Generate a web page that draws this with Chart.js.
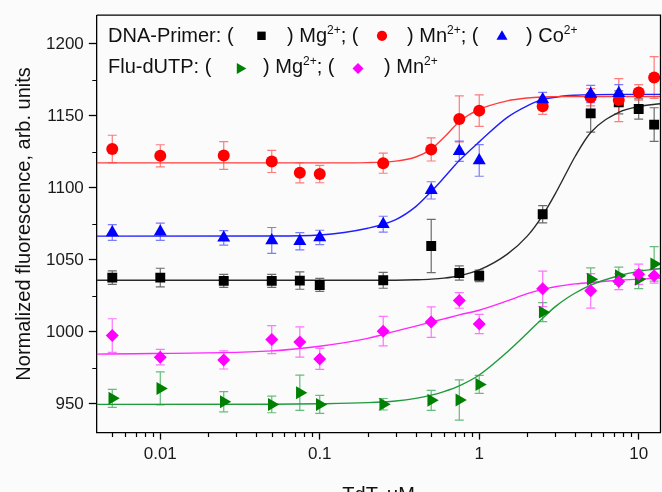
<!DOCTYPE html>
<html>
<head>
<meta charset="utf-8">
<script src="https://cdn.jsdelivr.net/npm/chart.js@4"></script>
<style>
  html, body { margin: 0; padding: 0; overflow: hidden; background: #ffffff; }
  #wrap { position: relative; width: 668px; height: 507px; background: #fbfbfb; }
  #legend span.t { position: absolute; font-family: "Liberation Sans", Arial, sans-serif; font-size: 20px; line-height: 20px; color: #111; white-space: pre; }
  #legend span.s { font-size: 12px; position: relative; top: -8px; }
</style>
</head>
<body>
<div id="wrap">
  <canvas id="c"></canvas>
  <div id="legend">
    <span class="t" style="left:108px;top:25px">DNA-Primer: (</span>
    <span class="t" style="left:287px;top:25px">) Mg<span class="s">2+</span>; (</span>
    <span class="t" style="left:407px;top:25px">) Mn<span class="s">2+</span>; (</span>
    <span class="t" style="left:526px;top:25px">) Co<span class="s">2+</span></span>
    <span class="t" style="left:108px;top:55.5px">Flu-dUTP: (</span>
    <span class="t" style="left:263px;top:55.5px">) Mg<span class="s">2+</span>; (</span>
    <span class="t" style="left:384px;top:55.5px">) Mn<span class="s">2+</span></span>
  </div>
</div>
<script>
// ---------------- data ----------------
const concentrations = [0.005, 0.01, 0.025, 0.05, 0.075, 0.1, 0.25, 0.5, 0.75, 1, 2.5, 5, 7.5, 10, 12.5];

const primerMg    = [1037.7, 1037.7, 1035.4, 1035.4, 1035.6, 1032.6, 1035.8, 1059.6, 1040.9, 1038.9, 1081.7, 1151.8, 1159.4, 1154.8, 1144.0];
const primerMgErr = [4.7, 6.5, 4.5, 4.5, 6, 4.5, 5.5, 18.5, 5, 4, 6, 13, 8, 7, 11.7];

const primerMn    = [1127.1, 1122.3, 1122.5, 1118.4, 1110.5, 1109.6, 1117.2, 1126.7, 1147.9, 1153.7, 1156.8, 1163, 1161, 1166.3, 1176.7];
const primerMnErr = [9.5, 7.7, 9.6, 7.7, 7, 6, 7, 8, 16, 11, 5.7, 6, 15, 5.4, 14.5];

const primerCo    = [1069, 1069.5, 1065.3, 1063.5, 1063, 1065.6, 1074.8, 1098.3, 1125.5, 1119.1, 1161.4, 1165.3, 1165.8, null, null];
const primerCoErr = [5.5, 6, 5, 9, 6, 5, 5.5, 6, 7, 11, 5, 6, 6, 0, 0];

const fluMg    = [953.8, 960.7, 951.4, 949.6, 957.7, 949.6, 949.7, 952.4, 952.6, 963.5, 1013.7, 1036.5, 1038.9, 1036.5, 1047.2];
const fluMgErr = [6.3, 11.5, 7, 5.8, 12.3, 6.3, 4, 7, 14, 6.3, 6.6, 8, 6, 6.5, 12];

const fluMn    = [997.4, 982.4, 980.5, 994.6, 992.9, 981.2, 1000.5, 1006.8, 1021.8, 1005.4, 1029.9, 1028.5, 1034.9, 1040, 1038.9];
const fluMnErr = [11.7, 5.4, 6.3, 9.7, 10.5, 7.3, 10.3, 10.6, 5.4, 6.7, 12.3, 12, 5.6, 7, 5];

// fitted curves at these concentrations
const fitX        = [0.004, 0.05, 0.1, 0.2, 0.3, 0.4, 0.5, 0.6, 0.75, 1, 1.5, 2, 2.5, 3, 3.5, 4, 5, 7.5, 10, 13.7];
const fitPrimerMg = [1035.8, 1035.8, 1035.8, 1035.8, 1035.9, 1036.2, 1036.6, 1037.3, 1039, 1043, 1054, 1066.5, 1081, 1096, 1110, 1122, 1138.5, 1152.5, 1156.5, 1158.5];
const fitPrimerMn = [1117.4, 1117.4, 1117.4, 1117.6, 1118.6, 1121.5, 1127, 1135, 1146, 1154.5, 1160.5, 1162.5, 1163.2, 1163.4, 1163.5, 1163.5, 1163.5, 1163.5, 1163.5, 1163.5];
const fitPrimerCo = [1066.5, 1066.6, 1067.3, 1072, 1078, 1087, 1097.5, 1107, 1119, 1132, 1149, 1157, 1161.5, 1163, 1164, 1164.4, 1164.8, 1165, 1165, 1165];
const fitFluMg    = [949.6, 949.7, 950, 950.8, 952, 953.8, 956, 958.5, 962.5, 970, 986, 999, 1009.5, 1017.5, 1023, 1027, 1032.5, 1039, 1042, 1044];
const fitFluMn    = [984.5, 986.8, 990, 995.5, 1000.5, 1004, 1006.8, 1009, 1011.8, 1015, 1021.5, 1026.5, 1029.5, 1031.3, 1032.5, 1033.3, 1034.3, 1035.8, 1036.6, 1037.4];

// axes
const xMin = 0.004, xMax = 13.7;
const yMin = 930, yMax = 1220;
const xTickValues = [0.01, 0.1, 1, 10];
const xTickLabels = ['0.01', '0.1', '1', '10'];
const yTickValues = [950, 1000, 1050, 1100, 1150, 1200];
const yTickLabels = ['950', '1000', '1050', '1100', '1150', '1200'];
const yMinorTicks = [975, 1025, 1075, 1125, 1175];
const xMinorTicks = [];
[0.001, 0.01, 0.1, 1].forEach(d => { for (let k = 2; k <= 9; k++) { const v = +(k * d).toPrecision(3); if (v > xMin && v < xMax) xMinorTicks.push(v); } });

// ---------------- helpers ----------------
const pts = (xs, ys) => xs.map((x, i) => ({ x: x, y: ys[i] })).filter(p => p.y !== null);

const series = [
  { label: 'DNA-Primer Mg2+', ys: primerMg, err: primerMgErr, fit: fitPrimerMg, color: '#000000', errColor: 'rgba(60,60,60,0.75)', lineColor: '#2a2a2a', style: 'rect', r: 7, rot: 0 },
  { label: 'DNA-Primer Mn2+', ys: primerMn, err: primerMnErr, fit: fitPrimerMn, color: '#ff0000', errColor: 'rgba(255,70,70,0.7)', lineColor: '#ff3c3c', style: 'circle', r: 6, rot: 0 },
  { label: 'DNA-Primer Co2+', ys: primerCo, err: primerCoErr, fit: fitPrimerCo, color: '#0000ff', errColor: 'rgba(70,70,255,0.7)', lineColor: '#1e1eff', style: 'triangle', r: 7.5, rot: 0 },
  { label: 'Flu-dUTP Mg2+',   ys: fluMg,    err: fluMgErr,    fit: fitFluMg,    color: '#008000', errColor: 'rgba(40,160,70,0.7)', lineColor: '#1f9a3c', style: 'triangle', r: 7.5, rot: 90 },
  { label: 'Flu-dUTP Mn2+',   ys: fluMn,    err: fluMnErr,    fit: fitFluMn,    color: '#ff00ff', errColor: 'rgba(255,60,255,0.7)', lineColor: '#ff28ff', style: 'rectRot', r: 6.5, rot: 0 }
];

const datasets = [];
series.forEach((s, i) => {
  datasets.push({
    label: s.label + ' fit', type: 'line', data: pts(fitX, s.fit), showLine: true,
    borderColor: s.lineColor, borderWidth: 1.4, pointRadius: 0, fill: false,
    cubicInterpolationMode: 'monotone', order: 10 + i
  });
});
series.forEach((s, i) => {
  datasets.push({
    label: s.label, data: pts(concentrations, s.ys), showLine: false,
    pointStyle: s.style, pointRadius: s.r, pointRotation: s.rot,
    backgroundColor: s.color, borderColor: s.color, borderWidth: 0, order: 5 - i
  });
});

const errorBars = {
  id: 'errorBars',
  beforeDatasetsDraw(chart) {
    const { ctx, scales: { x, y } } = chart;
    ctx.save();
    ctx.lineWidth = 1.2;
    series.forEach(s => {
      ctx.strokeStyle = s.errColor;
      concentrations.forEach((c, j) => {
        const v = s.ys[j];
        if (v === null) return;
        const e = s.err[j];
        const px = x.getPixelForValue(c);
        const yt = y.getPixelForValue(v + e), yb = y.getPixelForValue(v - e);
        ctx.beginPath();
        ctx.moveTo(px, yt); ctx.lineTo(px, yb);
        ctx.moveTo(px - 4.5, yt); ctx.lineTo(px + 4.5, yt);
        ctx.moveTo(px - 4.5, yb); ctx.lineTo(px + 4.5, yb);
        ctx.stroke();
      });
    });
    ctx.restore();
  }
};

function drawMarker(ctx, style, x, y, r, rot, color) {
  ctx.save();
  ctx.fillStyle = color;
  ctx.beginPath();
  if (style === 'circle') { ctx.arc(x, y, r, 0, Math.PI * 2); }
  else if (style === 'rect') { const h = r * Math.SQRT1_2; ctx.rect(x - h, y - h, 2 * h, 2 * h); }
  else if (style === 'rectRot') { ctx.moveTo(x, y - r); ctx.lineTo(x + r, y); ctx.lineTo(x, y + r); ctx.lineTo(x - r, y); ctx.closePath(); }
  else if (style === 'triangle') {
    let a = rot * Math.PI / 180;
    ctx.moveTo(x + Math.sin(a) * r, y - Math.cos(a) * r);
    a += 2 * Math.PI / 3; ctx.lineTo(x + Math.sin(a) * r, y - Math.cos(a) * r);
    a += 2 * Math.PI / 3; ctx.lineTo(x + Math.sin(a) * r, y - Math.cos(a) * r);
    ctx.closePath();
  }
  ctx.fill();
  ctx.restore();
}

const legendMarkers = [
  { s: 0, x: 261.5, y: 35.8 }, { s: 1, x: 382, y: 35.8 }, { s: 2, x: 502, y: 36.5 },
  { s: 3, x: 240, y: 68.5 }, { s: 4, x: 358, y: 68.5 }
];

const frameAndMinor = {
  id: 'frameAndMinor',
  afterDraw(chart) {
    const { ctx, chartArea: a, scales: { x, y } } = chart;
    ctx.save();
    ctx.strokeStyle = '#000'; ctx.lineWidth = 1.3;
    ctx.beginPath();
    ctx.moveTo(a.left, a.top); ctx.lineTo(a.right, a.top); ctx.lineTo(a.right, a.bottom);
    ctx.stroke();
    ctx.lineWidth = 1.2;
    ctx.beginPath();
    xMinorTicks.forEach(v => { const px = Math.round(x.getPixelForValue(v)) + 0.5; ctx.moveTo(px, a.bottom); ctx.lineTo(px, a.bottom + 4.5); });
    yMinorTicks.forEach(v => { const py = Math.round(y.getPixelForValue(v)) + 0.5; ctx.moveTo(a.left, py); ctx.lineTo(a.left - 4.5, py); });
    ctx.stroke();
    legendMarkers.forEach(m => { const s = series[m.s]; drawMarker(ctx, s.style, m.x, m.y, s.r * 0.85, s.rot, s.color); });
    ctx.restore();
  }
};

Chart.defaults.font.family = '"Liberation Sans", Arial, sans-serif';
Chart.defaults.color = '#1a1a1a';

new Chart(document.getElementById('c'), {
  type: 'scatter',
  data: { datasets },
  options: {
    responsive: true, maintainAspectRatio: false, animation: false,
    layout: { padding: { left: 2, top: 12, right: 4, bottom: 0 } },
    plugins: { legend: { display: false }, tooltip: { enabled: false } },
    scales: {
      x: {
        type: 'logarithmic', min: xMin, max: xMax,
        afterBuildTicks: sc => { sc.ticks = xTickValues.map(v => ({ value: v })); },
        ticks: { autoSkip: false, maxRotation: 0, padding: 5, font: { size: 17 }, color: '#1a1a1a',
          callback: v => { const i = xTickValues.indexOf(v); return i >= 0 ? xTickLabels[i] : ''; } },
        grid: { drawOnChartArea: false, drawTicks: true, tickLength: 7, tickColor: '#000', tickWidth: 1.3 },
        border: { display: true, color: '#000', width: 1.3 },
        title: { display: true, text: 'TdT, μM', font: { size: 20 }, color: '#111', padding: { top: 13, bottom: 0 } }
      },
      y: {
        type: 'linear', min: yMin, max: yMax,
        afterBuildTicks: sc => { sc.ticks = yTickValues.map(v => ({ value: v })); },
        ticks: { padding: 5, font: { size: 17 }, color: '#1a1a1a',
          callback: v => { const i = yTickValues.indexOf(v); return i >= 0 ? yTickLabels[i] : ''; } },
        grid: { drawOnChartArea: false, drawTicks: true, tickLength: 8, tickColor: '#000', tickWidth: 1.3 },
        border: { display: true, color: '#000', width: 1.3 },
        title: { display: true, text: 'Normalized fluorescence, arb. units', font: { size: 20 }, color: '#111', padding: { top: 10, bottom: 5 } }
      }
    }
  },
  plugins: [errorBars, frameAndMinor]
});
</script>
</body>
</html>
